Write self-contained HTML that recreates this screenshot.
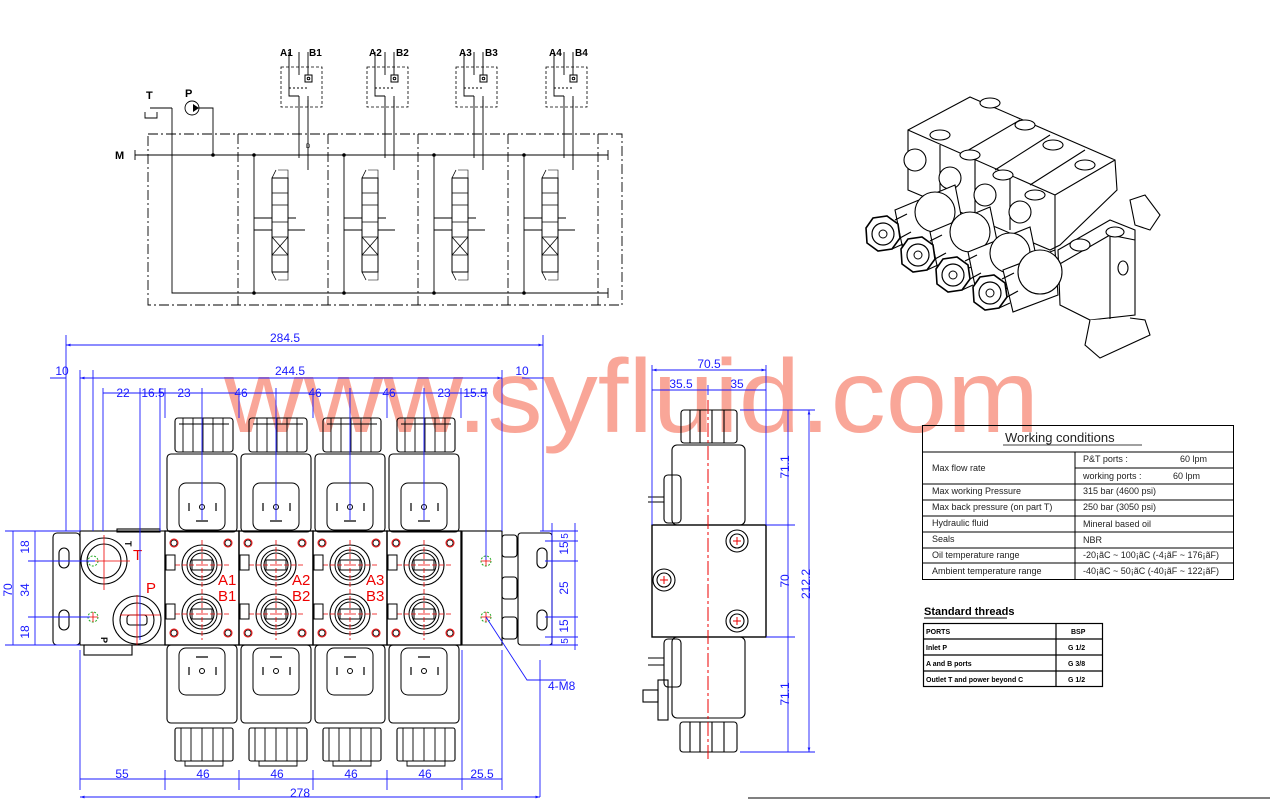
<!DOCTYPE html>
<html><head><meta charset="utf-8"><style>
html,body{margin:0;padding:0;background:#fff;width:1270px;height:799px;overflow:hidden}
svg{display:block}
text{font-family:"Liberation Sans",sans-serif}
</style></head><body>
<svg width="1270" height="799" viewBox="0 0 1270 799" xmlns="http://www.w3.org/2000/svg">
<defs>
<marker id="ar" viewBox="0 0 10 10" refX="10" refY="5" markerWidth="8" markerHeight="5" orient="auto-start-reverse"><path d="M0,2 L10,5 L0,8 z" fill="#1a1aff"/></marker>
<g id="sch">
  <rect x="-2" y="27" width="41" height="40" fill="none" stroke="#000" stroke-width="0.8" stroke-dasharray="3,2"/>
  <path d="M16,118 V56 M16,35 V12 M25,130 V60 M25,35 V12" fill="none" stroke="#000" stroke-width="0.9"/>
  <rect x="22" y="35" width="7" height="7" fill="none" stroke="#000"/><circle cx="25.5" cy="38.5" r="1.3" fill="none" stroke="#000"/>
  <path d="M6,48 H25" stroke="#000" stroke-dasharray="2,2" fill="none"/>
  <path d="M6,12 V56 H16 M25,56 V67" fill="none" stroke="#000" stroke-width="0.9"/>
</g>
<g id="valve">
  <path d="M16,115 V253 M16,178 H34 M16,190 H34 M50,178 H58 M50,190 H67" fill="none" stroke="#000" stroke-width="0.9"/>
  <rect x="34" y="138" width="16" height="94" fill="none" stroke="#000"/>
  <path d="M34,153 H50 M34,165 H50 M34,182 H50 M34,197 H50 M34,197 L50,215 M50,197 L34,215 M34,215 H50 M38,130 L34,138 M38,240 L34,232" fill="none" stroke="#000" stroke-width="0.8"/>
  <path d="M40,130 h10 v8 M40,240 h10 v-8" fill="none" stroke="#000" stroke-width="0.6"/>
  <circle cx="16" cy="115" r="1.8" fill="#000"/><circle cx="16" cy="253" r="1.8" fill="#000"/>
</g>
<g id="sec">
  <rect x="10" y="418" width="58" height="34" rx="3" fill="none" stroke="#000" stroke-width="1.1"/>
  <path d="M18,418 V452 M28,418 V452 M38,418 V452 M48,418 V452 M58,418 V452 M14,424 H64" stroke="#000" stroke-width="0.9" fill="none"/>
  <rect x="2" y="454" width="70" height="78" rx="4" fill="none" stroke="#000" stroke-width="1.1"/>
  <rect x="14" y="483" width="46" height="47" rx="7" fill="none" stroke="#000"/>
  <circle cx="37" cy="507" r="2.5" fill="none" stroke="#000"/><path d="M24,503 v8 M51,503 v8 M31,521 h12" stroke="#000" stroke-width="1.2"/>
  <rect x="0" y="531" width="74" height="114" fill="none" stroke="#000" stroke-width="1.3"/>
  <circle cx="37" cy="565" r="20" fill="none" stroke="#000" stroke-width="1.1"/><circle cx="37" cy="565" r="15" fill="none" stroke="#000"/><circle cx="37" cy="565" r="12" fill="none" stroke="#000"/>
  <circle cx="37" cy="614" r="20" fill="none" stroke="#000" stroke-width="1.1"/><circle cx="37" cy="614" r="15" fill="none" stroke="#000"/><circle cx="37" cy="614" r="12" fill="none" stroke="#000"/>
  <rect x="27" y="560" width="20" height="10" fill="none" stroke="#000"/><rect x="27" y="609" width="20" height="10" fill="none" stroke="#000"/>
  <path d="M10,565 H64 M10,614 H64 M37,540 V640" stroke="#e00" stroke-width="0.8" stroke-dasharray="5,2"/>
  <g fill="none" stroke="#e00"><circle cx="9" cy="543" r="4"/><circle cx="63" cy="543" r="4"/><circle cx="9" cy="633" r="4"/><circle cx="63" cy="633" r="4"/></g>
  <g stroke="#000" stroke-width="0.8" fill="none"><circle cx="9" cy="543" r="3"/><circle cx="63" cy="543" r="3"/><circle cx="9" cy="633" r="3"/><circle cx="63" cy="633" r="3"/></g>
  <rect x="1" y="555" width="9" height="15" fill="none" stroke="#000"/><rect x="1" y="604" width="9" height="15" fill="none" stroke="#000"/>
  <rect x="2" y="645" width="70" height="78" rx="4" fill="none" stroke="#000" stroke-width="1.1"/>
  <rect x="14" y="648" width="46" height="47" rx="7" fill="none" stroke="#000"/>
  <circle cx="37" cy="671" r="2.5" fill="none" stroke="#000"/><path d="M24,667 v8 M51,667 v8 M31,657 h12" stroke="#000" stroke-width="1.2"/>
  <rect x="10" y="728" width="58" height="33" rx="2" fill="none" stroke="#000" stroke-width="1.1"/>
  <path d="M16,728 V761 M26,728 V761 M37,728 V761 M48,728 V761 M58,728 V761 M20,761 h38 v5 h-38 z" stroke="#000" stroke-width="0.9" fill="none"/>
</g>
<g id="nut">
  <polygon points="-17,-6 -10,-16 4,-18 15,-10 17,4 9,15 -5,17 -16,9" fill="#fff" stroke="#000" stroke-width="1.6"/>
  <circle r="11" fill="none" stroke="#000" stroke-width="1.2"/><circle r="4" fill="none" stroke="#000"/>
  <path d="M12,-14 L24,-20 M17,4 L28,-2 M9,15 L20,10" stroke="#000" stroke-width="1.2"/>
</g>
</defs>

<!-- watermark -->
<text x="224" y="432" font-size="104" fill="#f7907e" fill-opacity="0.8" textLength="815" lengthAdjust="spacingAndGlyphs">www.syfluid.com</text>

<!-- hydraulic schematic -->
<g stroke="#000" fill="none" stroke-width="0.9">
  <rect x="148" y="134" width="474" height="171" stroke-dasharray="10,3,2,3"/>
  <path d="M238,134 V305 M328,134 V305 M418,134 V305 M508,134 V305 M598,134 V305" stroke-dasharray="10,3,2,3"/>
  <path d="M135,150 V160 M135,155 H608 M172,108 V293 H608 M608,288 V298 M608,150 V160"/>
  <path d="M145,112 V118 H157 V112 M150,108 H172"/>
  <circle cx="192" cy="108" r="7"/><path d="M199,108 H213 V155"/>
</g>
<path d="M193,104 L199,108 L193,112 z" fill="#000"/>
<circle cx="213" cy="155" r="1.8" fill="#000"/>
<text x="146" y="99" font-size="11" font-weight="bold">T</text>
<text x="185" y="97" font-size="11" font-weight="bold">P</text>
<text x="115" y="159" font-size="11" font-weight="bold">M</text>
<text x="306" y="148" font-size="6">D</text>
<g><use href="#valve" x="238" y="40"/><use href="#valve" x="328" y="40"/><use href="#valve" x="418" y="40"/><use href="#valve" x="508" y="40"/></g>
<g><use href="#sch" x="283" y="40"/><use href="#sch" x="369" y="40"/><use href="#sch" x="458" y="40"/><use href="#sch" x="548" y="40"/></g>
<g font-size="10" font-weight="bold">
<text x="280" y="56">A1</text><text x="309" y="56">B1</text>
<text x="369" y="56">A2</text><text x="396" y="56">B2</text>
<text x="459" y="56">A3</text><text x="485" y="56">B3</text>
<text x="549" y="56">A4</text><text x="575" y="56">B4</text>
</g>

<!-- front view -->
<g>
<use href="#sec" x="165"/><use href="#sec" x="239"/><use href="#sec" x="313"/><use href="#sec" x="387"/>
</g>
<g stroke="#000" fill="none" stroke-width="1.1">
  <rect x="53" y="533" width="27" height="112" rx="4"/>
  <rect x="80" y="531" width="85" height="114"/>
  <rect x="117" y="529" width="43" height="3"/><rect x="84" y="645" width="48" height="10"/>
  <circle cx="104" cy="561" r="23"/><circle cx="104" cy="561" r="17"/>
  <circle cx="137" cy="620" r="24"/><circle cx="137" cy="620" r="17"/><rect x="127" y="615" width="20" height="10" rx="3"/>
  <rect x="462" y="531" width="40" height="114"/>
  <rect x="502" y="535" width="15" height="22" rx="3"/><rect x="502" y="577" width="15" height="22" rx="3"/><rect x="502" y="617" width="15" height="22" rx="3"/>
  <rect x="518" y="533" width="34" height="112" rx="3"/>
  <rect x="59" y="548" width="10" height="20" rx="5"/><rect x="59" y="610" width="10" height="20" rx="5"/>
  <rect x="537" y="548" width="10" height="20" rx="5"/><rect x="537" y="610" width="10" height="20" rx="5"/>
</g>
<g fill="none" stroke="#22aa22" stroke-dasharray="2,1.5"><circle cx="93" cy="617" r="5"/><circle cx="486" cy="561" r="5"/><circle cx="486" cy="617" r="5"/><circle cx="93" cy="561" r="5"/></g>
<path d="M70,561 H130 M120,615 H160 M481,561 h10 M486,556 v10 M481,617 h10 M486,612 v10 M88,617 h10 M93,612 v10 M104,535 V590 M137,595 V645" stroke="#e00" stroke-width="0.8"/>
<g fill="#e00" font-size="15">
<text x="133" y="560">T</text><text x="146" y="593">P</text>
<text x="218" y="585">A1</text><text x="218" y="601">B1</text>
<text x="292" y="585">A2</text><text x="292" y="601">B2</text>
<text x="366" y="585">A3</text><text x="366" y="601">B3</text>
</g>
<text x="104" y="640" font-size="9" font-weight="bold" transform="rotate(90 104 637)">P</text>
<text x="128" y="544" font-size="9" font-weight="bold" transform="rotate(90 128 541)">T</text>

<!-- dimensions front -->
<g stroke="#1a1aff" stroke-width="0.9" fill="none">
  <path d="M66,345 H543" marker-start="url(#ar)" marker-end="url(#ar)"/>
  <path d="M80,378 H502" marker-start="url(#ar)" marker-end="url(#ar)"/>
  <path d="M50,378 H66 M522,378 H543"/>
  <path d="M103,393 H488" />
  <path d="M66,335 V531 M543,335 V531 M80,370 V531 M502,370 V531 M93,370 V531 M103,388 V531 M140,388 V640 M160,388 V531 M165,388 V418 M202,388 V520 M239,388 V418 M276,388 V520 M313,388 V418 M350,388 V520 M387,388 V418 M424,388 V520 M461,388 V418 M486,388 V560"/>
  <path d="M80,650 V790 M165,770 V790 M239,770 V790 M313,770 V790 M387,770 V790 M462,650 V790 M502,650 V790 M540,660 V797"/>
  <path d="M80,779 H502" /><path d="M80,797 H540" marker-start="url(#ar)" marker-end="url(#ar)"/>
  <path d="M13,531 V645 M35,531 V645 M5,531 H80 M5,645 H80 M28,561 H95 M28,617 H90"/>
  <path d="M552,523 V645 M575,523 V650 M540,531 H578 M540,645 H578 M545,541 H578 M545,561 H578 M545,617 H578 M545,637 H578"/>
  <path d="M486,617 L527,680 H566"/>
</g>
<g font-size="12" fill="#1a1aff" text-anchor="middle">
<text x="285" y="342">284.5</text><text x="290" y="375">244.5</text>
<text x="62" y="375">10</text><text x="522" y="375">10</text>
<text x="123" y="397">22</text><text x="153" y="397">16.5</text><text x="184" y="397">23</text>
<text x="241" y="397">46</text><text x="315" y="397">46</text><text x="389" y="397">46</text><text x="444" y="397">23</text><text x="475" y="397">15.5</text>
<text x="122" y="778">55</text><text x="203" y="778">46</text><text x="277" y="778">46</text><text x="351" y="778">46</text><text x="425" y="778">46</text><text x="482" y="778">25.5</text>
<text x="300" y="797">278</text>
<text x="548" y="690" text-anchor="start">4-M8</text>
<text transform="translate(29,547) rotate(-90)">18</text>
<text transform="translate(29,590) rotate(-90)">34</text>
<text transform="translate(29,632) rotate(-90)">18</text>
<text transform="translate(12,590) rotate(-90)">70</text>
<text transform="translate(568,548) rotate(-90)">15</text>
<text transform="translate(568,588) rotate(-90)">25</text>
<text transform="translate(568,626) rotate(-90)">15</text>
<text transform="translate(568,641) rotate(-90)" font-size="10">5</text>
<text transform="translate(568,536) rotate(-90)" font-size="10">5</text>
</g>

<!-- side view -->
<g stroke="#000" fill="none" stroke-width="1.1">
  <rect x="681" y="410" width="56" height="33" rx="3"/>
  <path d="M690,410 V443 M700,410 V443 M712,410 V443 M724,410 V443"/>
  <rect x="672" y="445" width="73" height="80" rx="5"/>
  <rect x="664" y="475" width="17" height="48" rx="4"/><path d="M648,497 H664 M648,502 H664"/>
  <rect x="652" y="525" width="114" height="112" stroke-width="1.4"/>
  <circle cx="737" cy="541" r="11"/><circle cx="737" cy="541" r="7"/>
  <circle cx="664" cy="580" r="11"/><circle cx="664" cy="580" r="7"/>
  <circle cx="737" cy="621" r="11"/><circle cx="737" cy="621" r="7"/>
  <rect x="672" y="637" width="73" height="81" rx="5"/>
  <rect x="664" y="639" width="17" height="48" rx="4"/><path d="M648,658 H664 M648,665 H664"/>
  <rect x="658" y="680" width="10" height="40"/><rect x="643" y="690" width="15" height="12"/>
  <rect x="680" y="722" width="57" height="30" rx="3"/>
  <path d="M690,722 V752 M700,722 V752 M712,722 V752 M724,722 V752"/>
</g>
<path d="M708,400 V760 M733,541 h8 M737,537 v8 M660,580 h8 M664,576 v8 M733,621 h8 M737,617 v8" stroke="#e00" stroke-dasharray="14,3,3,3" stroke-width="1"/>
<g stroke="#1a1aff" stroke-width="0.9" fill="none">
  <path d="M652,370 H766" marker-start="url(#ar)" marker-end="url(#ar)"/>
  <path d="M652,390 H766"/>
  <path d="M652,365 V525 M766,365 V525 M708,385 V395"/>
  <path d="M740,410 H815 M766,525 H795 M766,637 H795 M740,752 H815"/>
  <path d="M788,410 V752"/><path d="M809,410 V752" marker-start="url(#ar)" marker-end="url(#ar)"/>
</g>
<g font-size="12" fill="#1a1aff" text-anchor="middle">
<text x="709" y="368">70.5</text><text x="681" y="388">35.5</text><text x="737" y="388">35</text>
<text transform="translate(789,467) rotate(-90)">71.1</text>
<text transform="translate(789,581) rotate(-90)">70</text>
<text transform="translate(789,694) rotate(-90)">71.1</text>
<text transform="translate(810,584) rotate(-90)">212.2</text>
</g>

<!-- 3D view (approximate) -->
<g stroke="#000" fill="#fff" stroke-width="1.1">
  <path d="M908,130 L970,97 L1115,160 L1117,190 L1060,245 L1050,250 L908,190 z"/>
  <path d="M908,130 L1055,195 L1115,160 M1055,195 L1055,250 M940,145 L940,200 M975,160 L975,215 M1010,175 L1010,230 M1020,120 L960,155 M1050,135 L995,170 M1085,150 L1030,185"/>
  <path d="M1058,250 L1110,220 L1135,230 L1135,315 L1090,320 L1060,305 z"/><path d="M1058,265 L1110,235 L1135,240 M1110,235 V320"/>
  <path d="M1090,320 L1085,345 L1100,358 L1150,335 L1145,320 L1130,318"/>
  <ellipse cx="1080" cy="245" rx="10" ry="6"/><ellipse cx="1115" cy="232" rx="9" ry="5"/><ellipse cx="1123" cy="268" rx="5" ry="7"/>
  <ellipse cx="990" cy="103" rx="10" ry="5"/><ellipse cx="1025" cy="125" rx="10" ry="5"/><ellipse cx="1053" cy="145" rx="10" ry="5"/><ellipse cx="1085" cy="165" rx="10" ry="5"/>
  <ellipse cx="940" cy="135" rx="10" ry="5"/><ellipse cx="970" cy="155" rx="10" ry="5"/><ellipse cx="1003" cy="175" rx="10" ry="5"/><ellipse cx="1035" cy="195" rx="10" ry="5"/>
  <circle cx="915" cy="160" r="11"/><circle cx="950" cy="178" r="11"/><circle cx="985" cy="195" r="11"/><circle cx="1020" cy="212" r="11"/>
  <path d="M1130,200 L1145,195 L1160,215 L1150,230 L1135,225 z"/>
  <path d="M895,210 L955,185 L965,235 L905,260 z"/><circle cx="935" cy="212" r="20"/>
  <path d="M930,232 L990,207 L1000,255 L940,280 z"/><circle cx="970" cy="232" r="20"/>
  <path d="M968,252 L1030,227 L1040,275 L978,300 z"/><circle cx="1010" cy="253" r="20"/>
  <path d="M1003,270 L1055,250 L1058,295 L1013,312 z"/><circle cx="1040" cy="272" r="22"/>
</g>
<use href="#nut" x="883" y="234"/><use href="#nut" x="918" y="255"/><use href="#nut" x="953" y="275"/><use href="#nut" x="990" y="293"/>

<!-- Working conditions table -->
<g stroke="#000" fill="none" stroke-width="1">
  <rect x="922.5" y="425.5" width="311" height="154"/>
  <path d="M922,452 H1234 M922,484 H1234 M1075,468 H1234 M922,500 H1234 M922,516 H1234 M922,532 H1234 M922,548 H1234 M922,563 H1234 M1075,452 V580"/>
  <path d="M1003,445 H1142" stroke-width="0.8"/>
</g>
<g font-size="9" fill="#222">
<text x="1005" y="442" font-size="13">Working conditions</text>
<text x="932" y="471">Max flow rate</text>
<text x="1083" y="462">P&amp;T ports :</text><text x="1180" y="462">60 lpm</text>
<text x="1083" y="479">working ports :</text><text x="1173" y="479">60 lpm</text>
<text x="932" y="494">Max working Pressure</text><text x="1083" y="494">315 bar (4600 psi)</text>
<text x="932" y="510">Max back pressure (on part T)</text><text x="1083" y="510">250 bar (3050 psi)</text>
<text x="932" y="526">Hydraulic fluid</text><text x="1083" y="527">Mineral based oil</text>
<text x="932" y="542">Seals</text><text x="1083" y="543">NBR</text>
<text x="932" y="558">Oil temperature range</text><text x="1083" y="558">-20¡ãC ~ 100¡ãC  (-4¡ãF ~ 176¡ãF)</text>
<text x="932" y="574">Ambient temperature range</text><text x="1083" y="574">-40¡ãC ~ 50¡ãC    (-40¡ãF ~ 122¡ãF)</text>
</g>
<text x="924" y="615" font-size="11" font-weight="bold" font-family="Liberation Serif,serif">Standard threads</text>
<path d="M924,618 H1007" stroke="#000"/>
<g stroke="#000" fill="none" stroke-width="1.2">
  <rect x="923.5" y="623.5" width="179" height="63"/>
  <path d="M923,639 H1103 M923,655 H1103 M923,671 H1103 M1056,623 V687"/>
</g>
<g font-size="7" font-weight="bold" font-family="Liberation Serif,serif">
<text x="926" y="634">PORTS</text><text x="1071" y="634">BSP</text>
<text x="926" y="650">Inlet P</text><text x="1068" y="650">G 1/2</text>
<text x="926" y="666">A and B ports</text><text x="1068" y="666">G 3/8</text>
<text x="926" y="682">Outlet T and power beyond C</text><text x="1068" y="682">G 1/2</text>
</g>
<path d="M748,798 H1270" stroke="#000"/>
</svg>
</body></html>
